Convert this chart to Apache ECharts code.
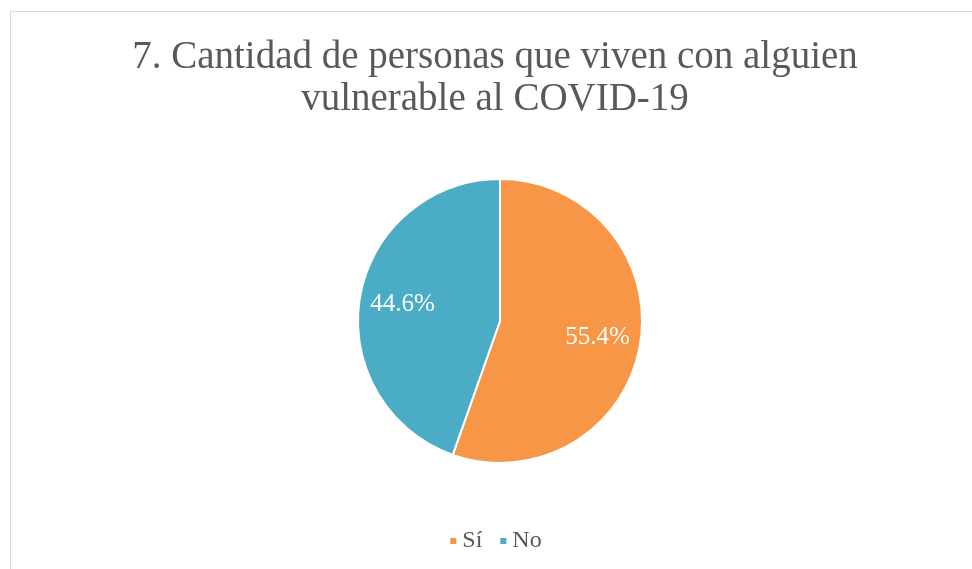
<!DOCTYPE html>
<html>
<head>
<meta charset="utf-8">
<script src="https://cdn.jsdelivr.net/npm/echarts@6/dist/echarts.min.js"></script>
<style>
  html, body { margin: 0; padding: 0; background: #fff; }
  #main { position: absolute; left: 10px; top: 11px; width: 970px; height: 570px;
          border: 1px solid #d9d9d9; box-sizing: border-box; }
</style>
</head>
<body>
<div id="main"></div>
<script>
var categories = ['Sí', 'No'];
var values = [55.4, 44.6];
var colors = ['#f79646', '#4bacc6'];

var chartDom = document.getElementById('main');
var myChart = echarts.init(chartDom);
var font = "'Liberation Serif', 'DejaVu Serif', serif";

var pieData = categories.map(function (c, i) {
    return { name: c, value: values[i], itemStyle: { color: colors[i] } };
});

var option = {
    title: {
        text: '7. Cantidad de personas que viven con alguien\nvulnerable al COVID-19',
        left: 'center',
        top: 20,
        textStyle: {
            fontFamily: font,
            fontSize: 39,
            fontWeight: 'normal',
            color: '#595959',
            lineHeight: 42
        }
    },
    legend: {
        bottom: 22,
        left: 'center',
        icon: 'rect',
        itemWidth: 8,
        itemHeight: 8,
        itemGap: 16,
        textStyle: { fontFamily: font, fontSize: 24, color: '#595959' },
        data: categories
    },
    series: [
        {
            type: 'pie',
            center: [489, 309],
            radius: [0, 142],
            startAngle: 90,
            clockwise: true,
            data: pieData,
            label: { show: false },
            labelLine: { show: false },
            itemStyle: { borderColor: '#fff', borderWidth: 2 },
            emphasis: { disabled: true }
        },
        {
            // overlay used only to place the labels further out
            type: 'pie',
            center: [489, 309],
            radius: [50, 142],
            startAngle: 90,
            clockwise: true,
            silent: true,
            data: pieData.map(function (d) {
                return { name: d.name, value: d.value, itemStyle: { color: 'transparent' } };
            }),
            label: {
                show: true,
                position: 'inside',
                fontFamily: font,
                fontSize: 25,
                color: '#fff',
                formatter: function (p) { return p.value.toFixed(1) + '%'; }
            },
            labelLine: { show: false },
            legendHoverLink: false,
            emphasis: { disabled: true }
        }
    ]
};

myChart.setOption(option);
window.addEventListener('resize', function () { myChart.resize(); });
</script>
</body>
</html>
